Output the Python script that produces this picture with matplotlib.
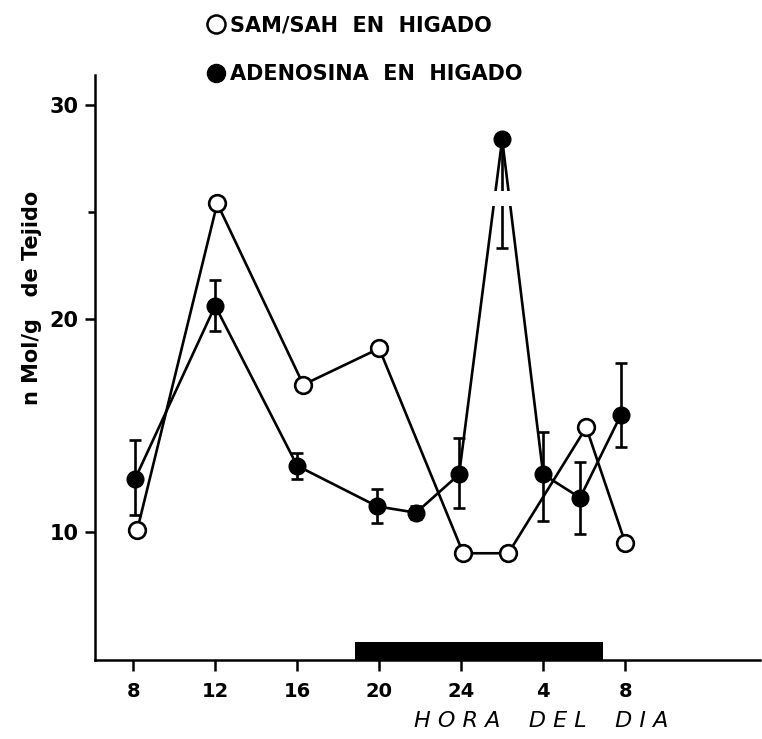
import numpy as np
import matplotlib.pyplot as plt
from matplotlib.lines import Line2D

# horas (eje continuo: 28 = 4h, 32 = 8h del dia siguiente)
hora_sam = [8.2, 12.1, 16.3, 20.0, 24.1, 26.3, 30.1, 32.0]
sam_sah = [10.1, 25.4, 16.9, 18.6, 9.0, 9.0, 14.9, 9.5]

hora_ado = [8.1, 12.0, 16.0, 19.9, 21.8, 23.9, 26.0, 28.0, 29.8, 31.8]
adenosina = [12.5, 20.6, 13.1, 11.2, 10.9, 12.7, 28.4, 12.7, 11.6, 15.5]
err_bajo = [1.7, 1.2, 0.6, 0.8, 0.3, 1.6, 5.1, 2.2, 1.7, 1.5]
err_alto = [1.8, 1.2, 0.6, 0.8, 0.3, 1.7, 0.0, 2.0, 1.7, 2.4]

xticks = [8, 12, 16, 20, 24, 28, 32]
xlabels = ['8', '12', '16', '20', '24', '4', '8']

noche = (18.8, 30.9)

fig = plt.figure(figsize=(7.62, 7.39), dpi=100)
ax = fig.add_axes([0.125, 0.107, 0.873, 0.791])

ax.errorbar(hora_ado, adenosina, yerr=[err_bajo, err_alto], color='black',
            marker='o', ms=12, mfc='black', lw=1.9, elinewidth=1.9,
            capsize=4, capthick=1.9, zorder=3)
ax.plot(hora_sam, sam_sah, color='black', marker='o', ms=12, mfc='white',
        mew=1.9, lw=1.9, zorder=4)

# corte blanco en las lineas del pico
ax.fill_between([24.9, 26.9], 25.3, 26.0, color='white', lw=0, zorder=5)

# barra de oscuridad
ax.broken_barh([(noche[0], noche[1] - noche[0])], (4.0, 0.85),
               facecolors='black', zorder=2)

ax.set_xlim(6.15, 38.6)
ax.set_ylim(4.0, 31.4)
ax.set_xticks(xticks)
ax.set_xticklabels(xlabels, fontsize=14, fontweight='bold')
ax.set_yticks([10, 20, 30])
ax.set_yticks([25], minor=True)
ax.set_yticklabels(['10', '20', '30'], fontsize=15, fontweight='bold')
ax.tick_params(axis='both', which='both', direction='out', width=1.8)
ax.tick_params(axis='x', length=8, pad=8)
ax.tick_params(axis='y', length=7, pad=5)
ax.tick_params(axis='y', which='minor', length=5)

for s in ['top', 'right']:
    ax.spines[s].set_visible(False)
for s in ['left', 'bottom']:
    ax.spines[s].set_linewidth(1.8)

ax.set_ylabel('n Mol/g   de Tejido', fontsize=15, fontweight='bold')
ax.yaxis.set_label_coords(-0.08, 0.62)
fig.text(0.71, 0.025, 'H O R A    D E L    D I A', fontsize=16, style='italic',
         ha='center', va='center')

handles = [Line2D([], [], ls='none', marker='o', ms=13, mfc='white', mec='black', mew=1.8),
           Line2D([], [], ls='none', marker='o', ms=13, mfc='black', mec='black')]
fig.legend(handles, ['SAM/SAH  EN  HIGADO', 'ADENOSINA  EN  HIGADO'],
           loc='upper left', bbox_to_anchor=(0.25, 1.005), frameon=False,
           handlelength=0.6, handletextpad=0.4, labelspacing=1.4,
           prop={'size': 15, 'weight': 'bold'})

fig.savefig('out.png', dpi=100)
